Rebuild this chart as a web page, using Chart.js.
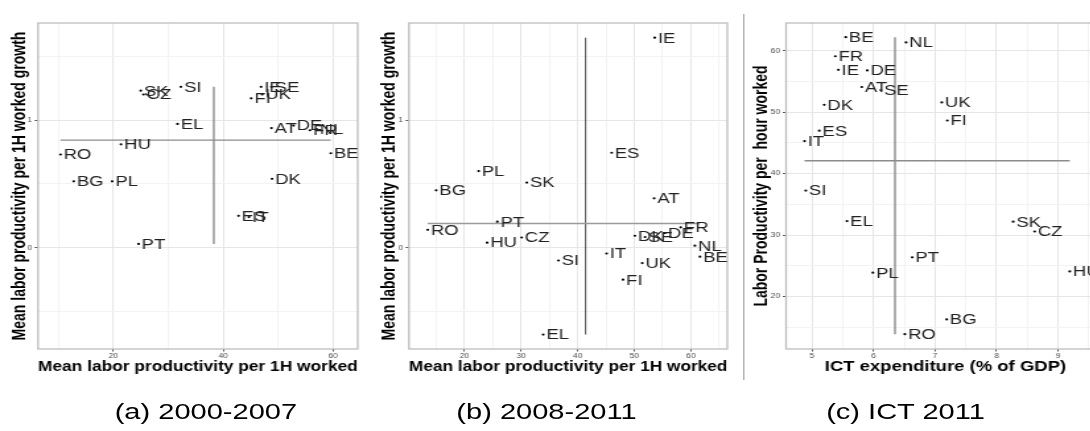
<!DOCTYPE html>
<html lang="en">
  <head>
    <meta charset="UTF-8" />
    <title>Labor productivity panels</title>
    <script src="https://cdn.jsdelivr.net/npm/chart.js"></script>
    <style>
      html,
      body {
        margin: 0;
        padding: 0;
        background: #ffffff;
        overflow: hidden;
      }
      /* the original figure is stretched horizontally, so is this one */
      #figure {
        position: relative;
        width: 826px;
        height: 431px;
        transform: scaleX(1.32);
        transform-origin: 0 0;
        font-family: "Liberation Sans", Arial, sans-serif;
      }
      canvas {
        position: absolute;
        top: 0;
      }
      #sep {
        position: absolute;
        left: 562.8px;
        top: 14px;
        width: 1.2px;
        height: 366px;
        background: #aaaaaa;
      }
      .caption {
        position: absolute;
        top: 399px;
        width: 200px;
        text-align: center;
        font-size: 22px;
        line-height: 26px;
        color: #000;
      }
    </style>
  </head>
  <body>
    <div id="figure">
      <canvas id="chartA" width="275" height="380" style="left: 0px"></canvas>
      <canvas id="chartB" width="275" height="380" style="left: 280px"></canvas>
      <div id="sep"></div>
      <canvas id="chartC" width="276" height="380" style="left: 565px"></canvas>
      <div class="caption" style="left: 56px">(a) 2000-2007</div>
      <div class="caption" style="left: 314px">(b) 2008-2011</div>
      <div class="caption" style="left: 586px">(c) ICT 2011</div>
    </div>

    <script>
      // (a) 2000-2007
      const codesA = ["SK", "CZ", "SI", "IE", "SE", "FI", "UK", "EL", "AT", "DE", "FR",
        "NL", "BE", "HU", "RO", "BG", "PL", "DK", "ES", "IT", "PT"];
      const prodA = [25.0, 25.5, 32.3, 46.9, 48.8, 45.1, 47.1, 31.7, 48.8, 52.8, 55.8,
        57.0, 59.6, 21.4, 10.4, 12.8, 19.8, 48.9, 42.8, 44.7, 24.6];
      const growthA = [1.23, 1.2, 1.26, 1.26, 1.26, 1.17, 1.2, 0.97, 0.937, 0.957, 0.92,
        0.93, 0.74, 0.81, 0.73, 0.52, 0.52, 0.54, 0.25, 0.24, 0.03];
      const meanProdA = 38.3;
      const meanGrowthA = 0.843;

      // (b) 2008-2011
      const codesB = ["IE", "ES", "PL", "SK", "BG", "AT", "PT", "RO", "HU", "CZ", "SI",
        "EL", "IT", "UK", "FI", "DK", "SE", "DE", "FR", "NL", "BE"];
      const prodB = [53.6, 46.0, 22.5, 31.0, 15.0, 53.5, 25.8, 13.5, 24.0, 30.1, 36.6,
        33.9, 45.1, 51.4, 48.0, 50.1, 51.9, 55.4, 58.2, 60.7, 61.6];
      const growthB = [1.645, 0.744, 0.6, 0.51, 0.45, 0.387, 0.204, 0.14, 0.04, 0.08, -0.1,
        -0.68, -0.045, -0.12, -0.25, 0.094, 0.084, 0.115, 0.16, 0.016, -0.07];
      const meanProdB = 41.4;
      const meanGrowthB = 0.19;

      // (c) ICT 2011
      const codesC = ["BE", "NL", "FR", "IE", "DE", "AT", "SE", "DK", "UK", "FI", "ES",
        "IT", "SI", "EL", "SK", "CZ", "PT", "PL", "HU", "BG", "RO"];
      const ictC = [5.55, 6.53, 5.38, 5.43, 5.9, 5.81, 6.12, 5.2, 7.11, 7.2, 5.12,
        4.88, 4.9, 5.57, 8.27, 8.62, 6.63, 5.99, 9.19, 7.19, 6.51];
      const prodC = [62.2, 61.35, 59.1, 56.9, 56.8, 54.1, 53.6, 51.2, 51.6, 48.65, 47.0,
        45.3, 37.25, 32.3, 32.2, 30.6, 26.4, 23.9, 24.1, 16.3, 13.9];
      const meanIctC = 6.35;
      const meanProdC = 42.1;

      // grid lines and which of them carry a label
      const xGridA = [10, 20, 30, 40, 50, 60];
      const xLabelsA = [20, 40, 60];
      const xGridB = [15, 20, 25, 30, 35, 40, 45, 50, 55, 60, 65];
      const xLabelsB = [20, 30, 40, 50, 60];
      const yGridAB = [-0.5, 0, 0.5, 1, 1.5];
      const yLabelsAB = [0, 1];
      const xGridC = [5, 5.5, 6, 6.5, 7, 7.5, 8, 8.5, 9, 9.5];
      const xLabelsC = [5, 6, 7, 8, 9];
      const yGridC = [15, 20, 25, 30, 35, 40, 45, 50, 55, 60];
      const yLabelsC = [20, 30, 40, 50, 60];

      const MAJOR = "#e6e6e6";
      const MINOR = "#f3f3f3";

      // country codes next to the dots
      const codeLabels = {
        id: "codeLabels",
        afterDatasetsDraw(chart) {
          const ctx = chart.ctx;
          const codes = chart.data.datasets[0].codes;
          ctx.save();
          ctx.font = '14px "Liberation Sans", Arial, sans-serif';
          ctx.fillStyle = "#222222";
          ctx.textAlign = "left";
          ctx.textBaseline = "middle";
          chart.getDatasetMeta(0).data.forEach((pt, i) => {
            ctx.fillText(codes[i], pt.x + 2.4, pt.y + 1);
          });
          ctx.restore();
        },
      };

      // grey frame round the plotting area
      const panelBorder = {
        id: "panelBorder",
        beforeDatasetsDraw(chart) {
          const a = chart.chartArea;
          const ctx = chart.ctx;
          ctx.save();
          ctx.strokeStyle = "#bdbdbd";
          ctx.lineWidth = 1.3;
          ctx.strokeRect(a.left, a.top, a.right - a.left, a.bottom - a.top);
          ctx.restore();
        },
      };

      function axis(min, max, grid, labels, title, titlePad, fit, horizontal) {
        return {
          type: "linear",
          min: min,
          max: max,
          afterBuildTicks: (s) => {
            s.ticks = grid.map((v) => ({ value: v }));
          },
          afterFit: (s) => {
            if (horizontal) s.height = fit;
            else s.width = fit;
          },
          ticks: {
            autoSkip: false,
            maxRotation: 0,
            padding: horizontal ? 1 : 2,
            color: "#4d4d4d",
            font: { size: 6.5 },
            callback: (v) => (labels.includes(v) ? String(v) : ""),
          },
          grid: {
            color: (c) => (labels.includes(c.tick.value) ? MAJOR : MINOR),
            tickColor: (c) =>
              labels.includes(c.tick.value) ? "#555555" : "rgba(0,0,0,0)",
            tickLength: 2.5,
          },
          border: { display: false },
          title: {
            display: true,
            text: title,
            color: "#000",
            font: { size: 14, weight: "bold", family: '"Liberation Sans", Arial, sans-serif' },
            padding: horizontal ? { top: 0, bottom: titlePad } : { top: titlePad, bottom: 0 },
          },
        };
      }

      function panel(id, p) {
        const pts = p.xs.map((x, i) => ({ x: x, y: p.ys[i] }));
        const xLo = Math.min(...p.xs);
        const xHi = Math.max(...p.xs);
        const yLo = Math.min(...p.ys);
        const yHi = Math.max(...p.ys);
        return new Chart(document.getElementById(id), {
          type: "scatter",
          data: {
            datasets: [
              {
                data: pts,
                codes: p.codes,
                pointRadius: 1.1,
                pointBackgroundColor: "#000",
                pointBorderWidth: 0,
              },
              {
                data: [{ x: xLo, y: p.meanY }, { x: xHi, y: p.meanY }],
                showLine: true,
                pointRadius: 0,
                borderColor: p.hColor,
                borderWidth: 1.4,
              },
              {
                data: [{ x: p.meanX, y: yLo }, { x: p.meanX, y: yHi }],
                showLine: true,
                pointRadius: 0,
                borderColor: p.vColor,
                borderWidth: p.vWidth,
              },
            ],
          },
          options: {
            responsive: false,
            animation: false,
            layout: { padding: { left: 0, top: 23, right: p.padRight, bottom: 0 } },
            plugins: { legend: { display: false }, tooltip: { enabled: false } },
            scales: {
              x: axis(p.xMin, p.xMax, p.xGrid, p.xLabels, p.xTitle, 4, 31, true),
              y: axis(p.yMin, p.yMax, p.yGrid, p.yLabels, p.yTitle, p.yTitlePad, p.yWidth, false),
            },
          },
          plugins: [panelBorder, codeLabels],
        });
      }

      panel("chartA", {
        codes: codesA, xs: prodA, ys: growthA, meanX: meanProdA, meanY: meanGrowthA,
        xMin: 6.3, xMax: 64.5, yMin: -0.793, yMax: 1.76,
        xGrid: xGridA, xLabels: xLabelsA, yGrid: yGridAB, yLabels: yLabelsAB,
        xTitle: "Mean labor productivity per 1H worked",
        yTitle: "Mean labor productivity per 1H worked growth",
        yTitlePad: 6.8, yWidth: 28.8, padRight: 2.3,
        hColor: "#8c8c8c", vColor: "#8c8c8c", vWidth: 1.4,
      });

      panel("chartB", {
        codes: codesB, xs: prodB, ys: growthB, meanX: meanProdB, meanY: meanGrowthB,
        xMin: 10.19, xMax: 66.43, yMin: -0.793, yMax: 1.76,
        xGrid: xGridB, xLabels: xLabelsB, yGrid: yGridAB, yLabels: yLabelsAB,
        xTitle: "Mean labor productivity per 1H worked",
        yTitle: "Mean labor productivity per 1H worked growth",
        yTitlePad: 7.1, yWidth: 29.8, padRight: 2,
        hColor: "#9a9a9a", vColor: "#333333", vWidth: 0.9,
      });

      panel("chartC", {
        codes: codesC, xs: ictC, ys: prodC, meanX: meanIctC, meanY: meanProdC,
        xMin: 4.58, xMax: 9.76, yMin: 11.49, yMax: 64.51,
        xGrid: xGridC, xLabels: xLabelsC, yGrid: yGridC, yLabels: yLabelsC,
        xTitle: "ICT expenditure (% of GDP)",
        yTitle: "Labor Productivity per  hour worked",
        yTitlePad: 3.9, yWidth: 30.5, padRight: 2,
        hColor: "#8c8c8c", vColor: "#8c8c8c", vWidth: 1.4,
      });
    </script>
  </body>
</html>
